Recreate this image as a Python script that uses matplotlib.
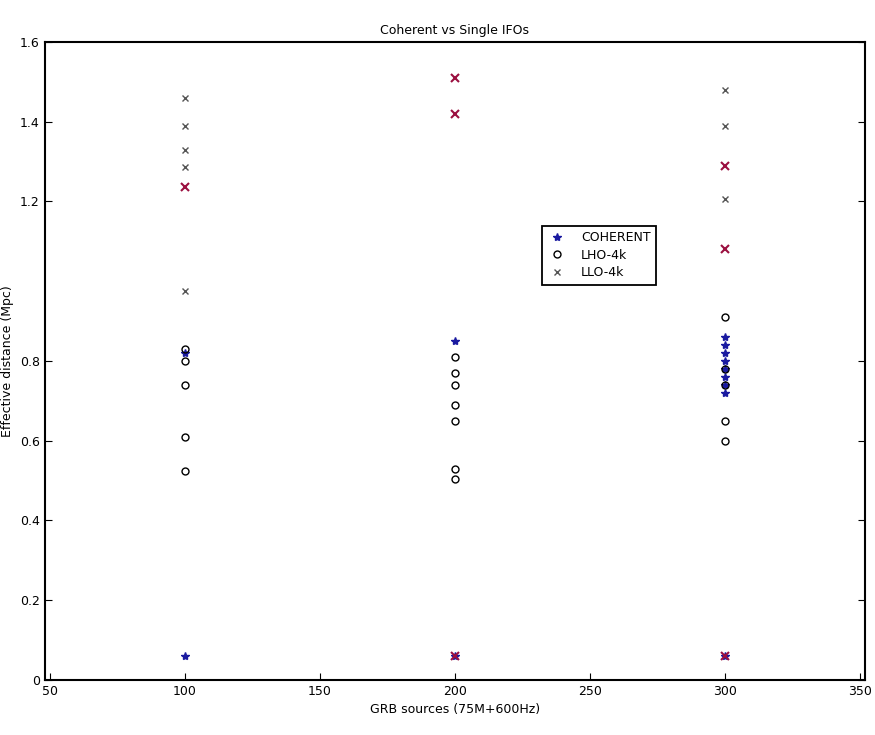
import matplotlib
matplotlib.use('Agg')
import matplotlib.pyplot as plt
import numpy as np

# DATA (x = source, y = value)
coh_x = [100, 100, 200, 200, 300, 300, 300, 300, 300, 300, 300, 300, 300]
coh_y = [0.82, 0.06, 0.85, 0.06, 0.86, 0.84, 0.82, 0.80, 0.78, 0.76, 0.74, 0.72, 0.06]

lho_x = [100, 100, 100, 100, 100, 200, 200, 200, 200, 200, 200, 200, 300, 300, 300, 300, 300]
lho_y = [0.83, 0.80, 0.74, 0.61, 0.525, 0.81, 0.77, 0.74, 0.69, 0.65, 0.53, 0.505, 0.91, 0.78, 0.74, 0.65, 0.60]

llo_x = [100, 100, 100, 100, 100, 300, 300, 300]
llo_y = [1.46, 1.39, 1.33, 1.285, 0.975, 1.48, 1.39, 1.205]

# red markers in the upper part (not in the legend)
red_x = [100, 200, 200, 200, 300, 300, 300]
red_y = [1.235, 1.51, 1.42, 0.06, 1.29, 1.08, 0.06]

yticks = [0, 0.2, 0.4, 0.6, 0.8, 1.2, 1.4, 1.6]
ytick_labels = ['0', '0.2', '0.4', '0.6', '0.8', '1.2', '1.4', '1.6']
xticks = [50, 100, 150, 200, 250, 300, 350]

plt.rcParams['font.family'] = 'DejaVu Sans'
plt.rcParams['font.size'] = 9

fig = plt.figure(figsize=(8.75, 7.35), dpi=100)
ax = fig.add_axes([0.051, 0.075, 0.938, 0.868])

ax.plot(coh_x, coh_y, '*', color='#1a1aa0', markersize=6, linestyle='none', label='COHERENT')
ax.plot(lho_x, lho_y, 'o', color='black', markersize=5, mfc='none', linestyle='none', label='LHO-4k')
ax.plot(llo_x, llo_y, 'x', color='#555555', markersize=5, linestyle='none', label='LLO-4k')
ax.plot(red_x, red_y, 'x', color='#9b1040', markersize=6, mew=1.5, linestyle='none')

ax.set_xlim(48, 352)
ax.set_ylim(0, 1.6)
ax.set_xticks(xticks)
ax.set_yticks(yticks)
ax.set_yticklabels(ytick_labels)
ax.tick_params(direction='in', top=False, right=True, length=5)

for s in ax.spines.values():
    s.set_linewidth(1.5)

ax.set_title('Coherent vs Single IFOs', fontsize=9)
ax.set_xlabel('GRB sources (75M+600Hz)')
ax.set_ylabel('Effective distance (Mpc)')

leg = ax.legend(loc='upper left', bbox_to_anchor=(0.598, 0.722), fancybox=False,
                edgecolor='black', framealpha=1, borderpad=0.45, handletextpad=1.2,
                handlelength=1.5, labelspacing=0.35)
leg.get_frame().set_linewidth(1.3)

plt.savefig('out.png', dpi=100)
